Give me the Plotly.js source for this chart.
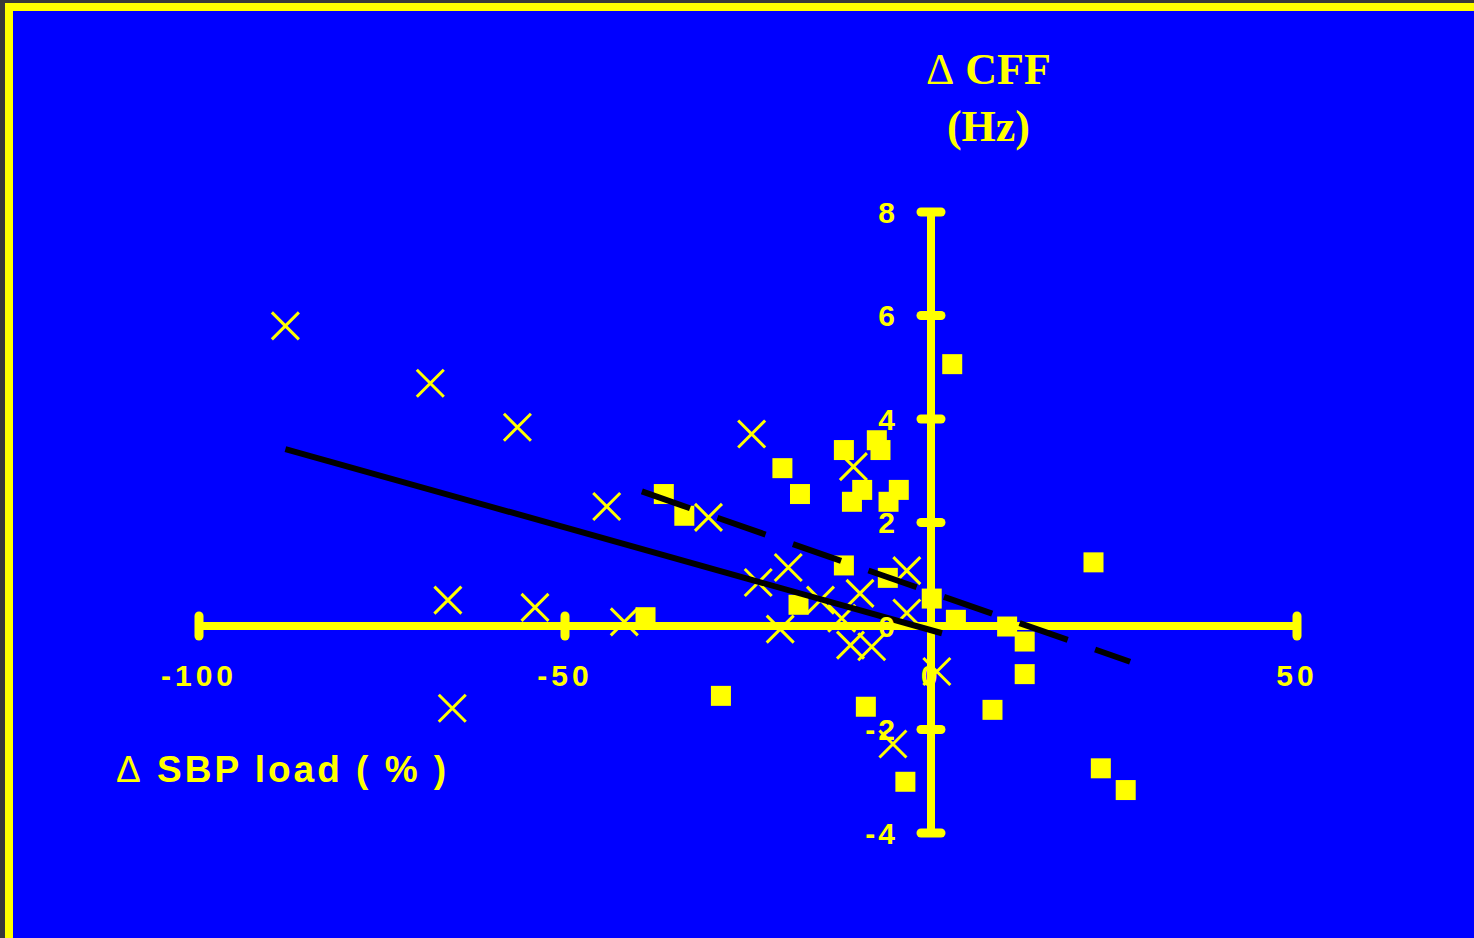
<!DOCTYPE html>
<html>
<head>
<meta charset="utf-8">
<script src="https://cdn.plot.ly/plotly-3.0.1.min.js"></script>
<style>
  html, body { margin: 0; padding: 0; background: #393939; width: 1474px; height: 938px; overflow: hidden; }
  #frame { position: absolute; left: 5px; top: 3px; width: 1469px; height: 935px; background: #ffff00; }
  #chart { position: absolute; left: 13px; top: 11px; width: 1461px; height: 927px; background: #0000ff; }
  .xtick text { letter-spacing: 4px; }
  .ytick text { letter-spacing: 3px; }
  .shapelayer, .shapelayer g, .shapelayer path { clip-path: none !important; }
  .shapelayer path { stroke-linecap: round; }
  .annotation[data-index="0"] text { letter-spacing: 3px; }
</style>
</head>
<body>
<div id="frame"></div>
<div id="chart"></div>
<script>
// ---- data ----
// Series with "x" markers
const crossX = [-88.2, -68.4, -56.5, -44.3, -66.0, -54.1, -41.9, -65.4, -24.5, -30.4, -10.6, -19.5,
                -23.6, -15.1, -9.7, -3.3, -20.6, -12.2, -3.3, -11.0, -8.1, 0.8, -5.2];
const crossY = [5.80, 4.69, 3.84, 2.31, 0.50, 0.36, 0.08, -1.59, 3.71, 2.10, 3.08, 1.13,
                0.84, 0.50, 0.63, 1.07, -0.06, 0.15, 0.25, -0.37, -0.40, -0.88, -2.28];
// Series with filled square markers
const squareX = [-36.5, -33.7, -20.3, -17.9, -7.4, -6.9, -11.9, -10.8, -9.4, -5.8, -4.4, -11.9,
                 -18.1, -5.9, 0.1, 3.4, 2.9, 10.4, 12.8, 12.8, 8.4, 22.2, 23.2, 26.6, -3.5, -8.9, -28.7, -39.0];
const squareY = [2.55, 2.13, 3.05, 2.55, 3.59, 3.40, 3.40, 2.40, 2.63, 2.40, 2.63, 1.17,
                 0.41, 0.93, 0.53, 0.12, 5.06, -0.01, -0.30, -0.93, -1.62, 1.23, -2.75, -3.17, -3.01, -1.56, -1.35, 0.17];
// Regression lines (end points)
const fitCrossX = [-88.2, 1.5];
const fitCrossY = [3.42, -0.14];
const fitSquareX = [-39.5, 27.2];
const fitSquareY = [2.60, -0.69];
// Axes
const xRange = [-100, 50];
const yRange = [-4, 8];
const xTickVals = [-100, -50, 0, 50];
const xTickText = ['-100', '-50', '0', '50'];
const yTickVals = [-4, -2, 0, 2, 4, 6, 8];
const yTickText = ['-4', '-2', '0', '2', '4', '6', '8'];
const xTitle = '<span style="font-weight:normal">Δ</span> SBP load ( % )';
const yTitle = '<span style="font-weight:normal">Δ</span> CFF<br>(Hz)';

const YEL = '#ffff00';
const BLUE = '#0000ff';
const tickFont = {family: 'Liberation Sans, Arial, sans-serif', size: 30, color: YEL, weight: 'bold'};

const traces = [
  {x: squareX, y: squareY, type: 'scatter', mode: 'markers',
   marker: {symbol: 'square', size: 20, color: YEL, line: {width: 0}}, cliponaxis: false},
  {x: crossX, y: crossY, type: 'scatter', mode: 'markers',
   marker: {symbol: 'x-thin-open', size: 27, color: YEL, line: {width: 3, color: YEL}}, cliponaxis: false},
  {x: fitCrossX, y: fitCrossY, type: 'scatter', mode: 'lines',
   line: {color: '#000000', width: 6}, cliponaxis: false},
  {x: fitSquareX, y: fitSquareY, type: 'scatter', mode: 'lines',
   line: {color: '#000000', width: 6, dash: '51px,29px'}, cliponaxis: false}
];

const shapes = [];
xTickVals.filter(v => v !== 0).forEach(v => shapes.push({
  type: 'line', xref: 'x', yref: 'y', x0: v, x1: v, ysizemode: 'pixel', yanchor: 0, y0: -10, y1: 10,
  line: {color: YEL, width: 9}, layer: 'above'}));
yTickVals.filter(v => v !== 0).forEach(v => shapes.push({
  type: 'line', xref: 'x', yref: 'y', y0: v, y1: v, xsizemode: 'pixel', xanchor: 0, x0: -10, x1: 10,
  line: {color: YEL, width: 9}, layer: 'above'}));

const yZeroFrac = (0 - yRange[0]) / (yRange[1] - yRange[0]);
const xZeroFrac = (0 - xRange[0]) / (xRange[1] - xRange[0]);

const layout = {
  width: 1461, height: 927,
  margin: {l: 186, r: 177, t: 201, b: 105, pad: 0},
  paper_bgcolor: BLUE, plot_bgcolor: BLUE,
  showlegend: false, hovermode: false,
  xaxis: {range: xRange, anchor: 'free', position: yZeroFrac, showline: false,
          zeroline: true, zerolinecolor: YEL, zerolinewidth: 8,
          showgrid: false, ticks: '', tickmode: 'array', tickvals: xTickVals, ticktext: xTickText,
          tickfont: tickFont, ticklabelstandoff: 29, fixedrange: true},
  yaxis: {range: yRange, anchor: 'free', position: xZeroFrac, showline: false,
          zeroline: true, zerolinecolor: YEL, zerolinewidth: 8,
          showgrid: false, ticks: '', tickmode: 'array', tickvals: yTickVals, ticktext: yTickText,
          tickfont: tickFont, ticklabelstandoff: 33, fixedrange: true},
  shapes: shapes,
  annotations: [
    {text: xTitle, xref: 'paper', yref: 'paper', x: -0.0556, y: 0.103, xanchor: 'left', yanchor: 'middle',
     showarrow: false, font: {family: 'Liberation Sans, Arial, sans-serif', size: 37, color: YEL, weight: 'bold'}},
    {text: yTitle, xref: 'paper', yref: 'paper', x: 0.7186, y: 1.1836, xanchor: 'center', yanchor: 'middle',
     showarrow: false, font: {family: 'Liberation Serif, Times New Roman, serif', size: 44, color: YEL, weight: 'bold'}}
  ]
};

Plotly.newPlot('chart', traces, layout, {displayModeBar: false, staticPlot: true});
</script>
</body>
</html>
